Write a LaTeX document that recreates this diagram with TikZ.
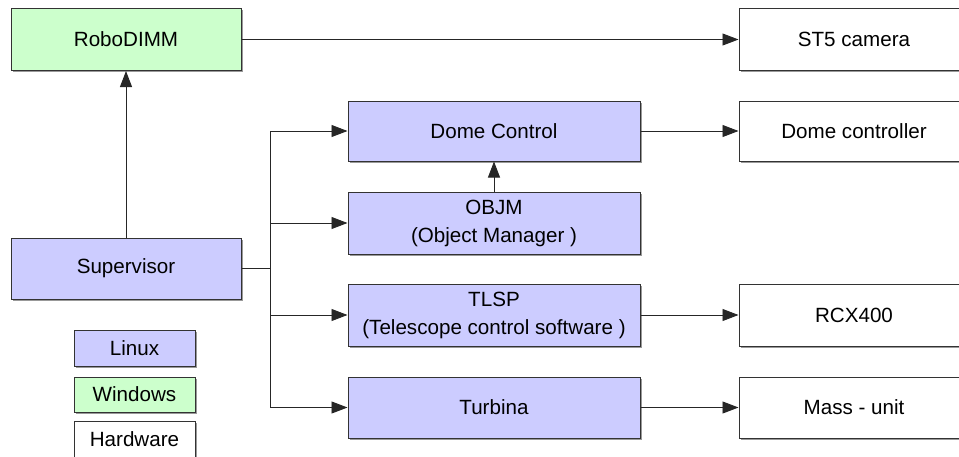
\documentclass[tikz,border=0pt]{standalone}
\usepackage{fontspec}
\setmainfont{Liberation Sans}
\usepackage{tikz}
\usetikzlibrary{arrows.meta,shadows}

\definecolor{linuxblue}{RGB}{204,204,255}
\definecolor{wingreen}{RGB}{204,255,204}

\begin{document}
\begin{tikzpicture}[x=1pt,y=-1pt,
    box/.style={draw=black!80,line width=1pt,inner sep=0pt,align=center,
      minimum width=230pt,minimum height=62pt,
      font=\fontsize{20.6}{28}\selectfont,
      drop shadow={shadow xshift=1.5pt,shadow yshift=-1.5pt,fill=black!40,opacity=1}},
    linux/.style={box,fill=linuxblue},
    win/.style={box,fill=wingreen},
    hw/.style={box,fill=white},
    mid/.style={minimum width=292pt},
    key/.style={minimum width=121pt,minimum height=36pt},
    arr/.style={draw=black!85,line width=0.9pt,-{Triangle[length=16pt,width=12pt]}}]
    \useasboundingbox (0,0) rectangle (959,456);

    \node[win] (robo) at (126,39.5) {RoboDIMM};
    \node[hw] (cam) at (854,39.5) {ST5 camera};
    \node[linux,mid,minimum height=60pt] (dome) at (494,131) {Dome Control};
    \node[hw,minimum height=60pt] (ctrl) at (854,131) {Dome controller};
    \node[linux,mid] (objm) at (494,223) {OBJM\\(Object Manager )};
    \node[linux,minimum height=61pt] (sup) at (126,268.5) {Supervisor};
    \node[linux,mid] (tlsp) at (494,315) {TLSP\\(Telescope control software )};
    \node[hw] (rcx) at (854,315) {RCX400};
    \node[linux,mid,minimum height=61pt] (turb) at (494,407.5) {Turbina};
    \node[hw,minimum height=61pt] (mass) at (854,407.5) {Mass - unit};

    \node[linux,key] (klinux) at (134.5,348) {Linux};
    \node[win,key,minimum height=35pt] (kwin) at (134.5,394.5) {Windows};
    \node[hw,key] (khw) at (134.5,439) {Hardware};

    \coordinate (split) at (270,268.5);

    \draw[arr] (sup) -- (robo);
    \draw[arr] (robo) -- (cam);
    \draw[draw=black!85,line width=0.9pt] (sup) -- (split);
    \draw[arr] (split) |- (dome);
    \draw[arr] (split) |- (objm);
    \draw[arr] (split) |- (tlsp);
    \draw[arr] (split) |- (turb);
    \draw[arr] (objm) -- (dome);
    \draw[arr] (dome) -- (ctrl);
    \draw[arr] (tlsp) -- (rcx);
    \draw[arr] (turb) -- (mass);
\end{tikzpicture}
\end{document}
